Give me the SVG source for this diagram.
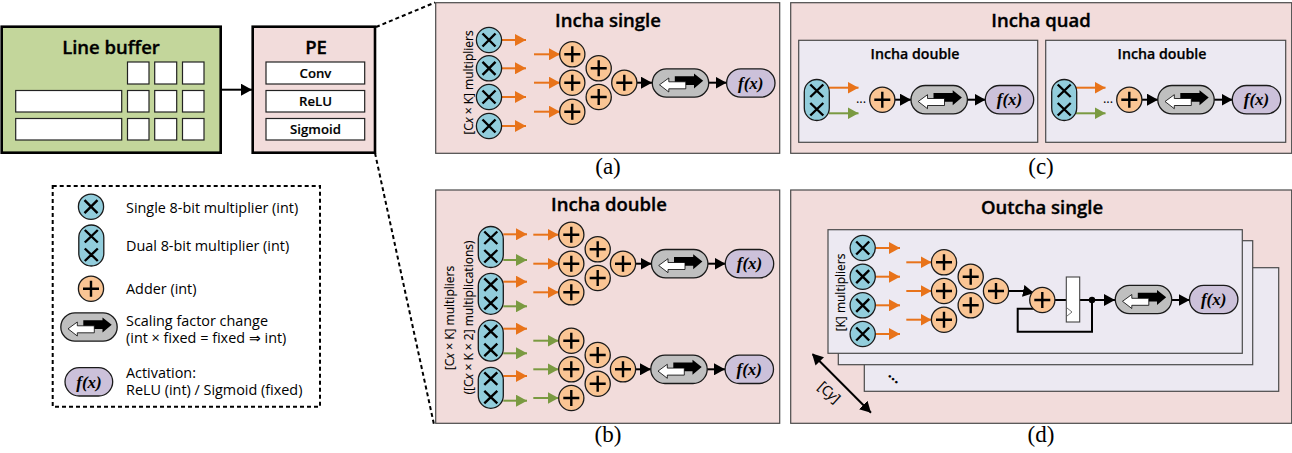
<svg xmlns="http://www.w3.org/2000/svg" width="1292" height="453" viewBox="0 0 1292 453">
<style>
text{font-family:"Open Sans","Noto Sans","Liberation Sans",sans-serif;fill:#000}
.h{font-size:18.5px;font-weight:600;text-anchor:middle;stroke:#000;stroke-width:.35}
.h2{font-size:14.2px;font-weight:600;text-anchor:middle;stroke:#000;stroke-width:.25}
.pe{font-size:13.2px;font-weight:600;text-anchor:middle;stroke:#000;stroke-width:.15}
.cap{font-family:"Liberation Serif",serif;font-size:23px;text-anchor:middle}
.lg{font-size:14.4px}
.rot{font-size:12px;text-anchor:middle;stroke:#000;stroke-width:.12}
.fx{font-family:"Liberation Serif",serif;font-size:17px;font-weight:700;font-style:italic;text-anchor:middle}
.panel{fill:#f2dcdb;stroke:#4a4a4a;stroke-width:1.2}
.inner{fill:#ece9f2;stroke:#4a4a4a;stroke-width:1.2}
.box{fill:#fff;stroke:#222;stroke-width:1.2}
.o{stroke:#e8731a;stroke-width:2;fill:none;marker-end:url(#ao)}
.g{stroke:#7a9a41;stroke-width:2;fill:none;marker-end:url(#ag)}
.k{stroke:#000;stroke-width:2;fill:none;marker-end:url(#ak)}
.w{stroke:#000;stroke-width:2;fill:none}
.sym{stroke:#1a1a1a;stroke-width:1.3}
.glyph{stroke:#000;stroke-width:2.4;fill:none}
</style>
<defs>
<marker id="ao" markerUnits="userSpaceOnUse" markerWidth="12" markerHeight="12" refX="11" refY="6" orient="auto"><path d="M0 0L11 6L0 12z" fill="#e8731a"/></marker>
<marker id="ag" markerUnits="userSpaceOnUse" markerWidth="12" markerHeight="12" refX="11" refY="6" orient="auto"><path d="M0 0L11 6L0 12z" fill="#7a9a41"/></marker>
<marker id="ak" markerUnits="userSpaceOnUse" markerWidth="12" markerHeight="12" refX="11" refY="6" orient="auto"><path d="M0 0L11 6L0 12z" fill="#000"/></marker>
<marker id="aks" markerUnits="userSpaceOnUse" markerWidth="12" markerHeight="12" refX="1" refY="6" orient="auto"><path d="M11 0L0 6L11 12z" fill="#000"/></marker>
<g id="mul"><circle r="12.6" fill="#92cddc" class="sym"/><path d="M-6.5-6.5L6.5 6.5M6.5-6.5L-6.5 6.5" class="glyph"/></g>
<g id="dual"><rect x="-12.5" y="-20.5" width="25" height="41" rx="12.5" fill="#92cddc" class="sym"/><path d="M-6.5-15.5L6.5-3M6.5-15.5L-6.5-3M-6.5 3L6.5 15.5M6.5 3L-6.5 15.5" class="glyph"/></g>
<g id="add"><circle r="12.6" fill="#fac594" class="sym"/><path d="M-8 0H8M0-8V8" class="glyph"/></g>
<g id="scale"><rect x="-28.2" y="-14.2" width="56.4" height="28.4" rx="14.2" fill="#bfbfbf" class="sym"/><path d="M-5.7-6.8H13.5V-9.5L22.7-2.2L13.5 5.5V2H-5.7z" fill="#000"/><path d="M5.3-1.2H-11.7V-5L-21 1.8L-11.7 9V5.8H5.3z" fill="#fff" stroke="#000" stroke-width=".8"/></g>
<rect id="fxb" x="-24.2" y="-14.2" width="48.4" height="28.4" rx="14.2" fill="#ccc1da" class="sym"/>
</defs>

<g id="line-buffer"><rect x="1.7" y="26.7" width="219" height="126" fill="#c3d69b" stroke="#000" stroke-width="2.6"/>
<text class="h" x="111" y="54">Line buffer</text>
<rect class="box" x="127.5" y="62" width="21.5" height="22"/><rect class="box" x="154.7" y="62" width="22" height="22"/><rect class="box" x="182.5" y="62" width="21.5" height="22"/>
<rect class="box" x="15.7" y="90.5" width="106" height="21.5"/><rect class="box" x="127.5" y="90.5" width="21.5" height="21.5"/><rect class="box" x="154.7" y="90.5" width="22" height="21.5"/><rect class="box" x="182.5" y="90.5" width="21.5" height="21.5"/>
<rect class="box" x="15.7" y="118.5" width="106" height="21.5"/><rect class="box" x="127.5" y="118.5" width="21.5" height="21.5"/><rect class="box" x="154.7" y="118.5" width="22" height="21.5"/><rect class="box" x="182.5" y="118.5" width="21.5" height="21.5"/></g>
<g id="pe"><rect x="252.7" y="26.7" width="122.3" height="126" fill="#f2dcdb" stroke="#000" stroke-width="2.6"/>
<text class="h" x="316" y="54">PE</text>
<rect class="box" x="266" y="62" width="98.7" height="22"/><text class="pe" x="315.5" y="78">Conv</text>
<rect class="box" x="266" y="90.5" width="98.7" height="21.5"/><text class="pe" x="315.5" y="106">ReLU</text>
<rect class="box" x="266" y="118.5" width="98.7" height="21.5"/><text class="pe" x="315.5" y="134">Sigmoid</text></g>

<g id="legend"><rect x="52.7" y="186" width="267.3" height="220.7" fill="#fff" stroke="#000" stroke-width="2" stroke-dasharray="4 3"/>
<use href="#mul" x="91" y="206.7"/><text class="lg" x="126" y="213">Single 8-bit multiplier (int)</text>
<use href="#dual" x="91.3" y="245.5"/><text class="lg" x="126" y="251">Dual 8-bit multiplier (int)</text>
<use href="#add" x="91" y="288.7"/><text class="lg" x="126" y="294">Adder (int)</text>
<use href="#scale" x="89" y="327"/><text class="lg" x="126" y="326">Scaling factor change</text><text class="lg" x="126" y="343">(int × fixed = fixed ⇒ int)</text>
<rect x="65" y="367.7" width="47.7" height="28.3" rx="14.2" fill="#ccc1da" class="sym"/><text class="fx" x="89" y="387.5">f(x)</text>
<text class="lg" x="126" y="378">Activation:</text><text class="lg" x="126" y="395">ReLU (int) / Sigmoid (fixed)</text></g>

<g id="panel-a"><rect class="panel" x="435.7" y="2.7" width="344" height="150.6"/><text class="h" x="608" y="27">Incha single</text><text class="cap" x="608" y="174">(a)</text>
<text class="rot" transform="translate(472.7 82.5) rotate(-90)">[C<tspan font-style="italic">x</tspan> × K] multipliers</text></g>
<g id="panel-b"><rect class="panel" x="435.7" y="190" width="344" height="233.3"/><text class="h" x="609" y="211">Incha double</text><text class="cap" x="608" y="442">(b)</text>
<text class="rot" transform="translate(454 318) rotate(-90)">[C<tspan font-style="italic">x</tspan> × K] multipliers</text>
<text class="rot" transform="translate(472.5 317.5) rotate(-90)">([C<tspan font-style="italic">x</tspan> × K × 2] multiplications)</text></g>
<g id="panel-c"><rect class="panel" x="790.7" y="2.7" width="501" height="150.6"/><text class="h" x="1041" y="27">Incha quad</text><text class="cap" x="1041" y="174">(c)</text>
<rect class="inner" x="798.7" y="40.3" width="239" height="102"/><text class="h2" x="915" y="59">Incha double</text>
<rect class="inner" x="1045.7" y="40.3" width="240" height="102"/><text class="h2" x="1162" y="59">Incha double</text>
<text x="861" y="103" font-size="13" text-anchor="middle">...</text><text x="1108" y="103" font-size="13" text-anchor="middle">...</text></g>
<g id="panel-d"><rect class="panel" x="790.7" y="190" width="501" height="233.3"/><text class="h" x="1042" y="214">Outcha single</text><text class="cap" x="1041" y="442">(d)</text>
<rect class="inner" x="864.3" y="267.7" width="414.4" height="123.6"/><rect class="inner" x="838.3" y="240.7" width="414.4" height="124"/><rect class="inner" x="828" y="229.7" width="414.3" height="123.6"/>
<text class="rot" transform="translate(845.3 292.5) rotate(-90)">[K] multipliers</text>
<text x="895" y="381" font-size="15" font-weight="700" text-anchor="middle" transform="rotate(42 895 377)">...</text>
<text class="rot" font-size="14" style="font-size:14px" transform="translate(826 396) rotate(42)">[C<tspan font-style="italic">y</tspan>]</text></g>

<g id="connectors">
<path class="k" d="M221 89.7H252"/>
<path d="M376 27L435 2.5M375 153L434 424.5" stroke="#000" stroke-width="2" stroke-dasharray="4 3" fill="none"/>
<path class="o" d="M502 40H526"/><path class="o" d="M502 68.3H526"/><path class="o" d="M502 97H526"/><path class="o" d="M502 126H526"/>
<path class="o" d="M534 54.3H560"/><path class="o" d="M534 82.7H560"/><path class="o" d="M534 111.7H560"/>
<path class="k" d="M637 82.7H652"/><path class="k" d="M709 82.7H726.5"/>
<path class="o" d="M503.3 234.3H527"/><path class="g" d="M503.3 260H527"/><path class="o" d="M503.3 281.7H527"/><path class="g" d="M503.3 306.3H527"/><path class="o" d="M503.3 328.7H527"/><path class="g" d="M503.3 353.3H527"/><path class="o" d="M503.3 376H527"/><path class="g" d="M503.3 400.7H527"/>
<path class="o" d="M533.3 234.7H558.5"/><path class="o" d="M533.3 263.7H558.5"/><path class="o" d="M533.3 292.3H558.5"/>
<path class="g" d="M533.3 340.7H558.5"/><path class="g" d="M533.3 369.3H558.5"/><path class="g" d="M533.3 398H558.5"/>
<path class="k" d="M636 263.7H651.5"/><path class="k" d="M708 263.7H725.5"/><path class="k" d="M636 369.3H651"/><path class="k" d="M707 369.3H725"/>
<path class="o" d="M829 87.7H858.5"/><path class="g" d="M829 113.3H858.5"/><path class="k" d="M895 99.7H911"/><path class="k" d="M967 99.7H985.5"/>
<path class="o" d="M1076 87.7H1105.5"/><path class="g" d="M1076 113.3H1105.5"/><path class="k" d="M1142 99.7H1158"/><path class="k" d="M1214 99.7H1232.5"/>
<path class="o" d="M876 248H900"/><path class="o" d="M876 276.7H900"/><path class="o" d="M876 305.3H900"/><path class="o" d="M876 334H900"/>
<path class="o" d="M906.3 262.3H931.5"/><path class="o" d="M906.3 291H931.5"/><path class="o" d="M906.3 319.7H931.5"/>
<path class="k" d="M1009 291H1024L1034 293"/>
<path class="w" d="M1055 300H1066.3M1079.7 300H1092"/>
<path class="k" d="M1092 300H1115"/><path class="k" d="M1172 300H1189.7"/>
<path class="w" d="M1092 300V331.7H1017.7V308.7H1036"/>
<circle cx="1092" cy="300" r="3.2" fill="#000"/>
<path d="M812.7 354.3L871 412.7" stroke="#000" stroke-width="2" fill="none" marker-start="url(#aks)" marker-end="url(#ak)"/>
</g>

<g id="nodes-a">
<use id="a-m1" href="#mul" x="489" y="40"/><use id="a-m2" href="#mul" x="489" y="68.3"/><use id="a-m3" href="#mul" x="489" y="97"/><use id="a-m4" href="#mul" x="489" y="126"/>
<use id="a-a1" href="#add" x="572.3" y="54.3"/><use id="a-a2" href="#add" x="572.3" y="82.7"/><use id="a-a3" href="#add" x="572.3" y="111.7"/><use id="a-a4" href="#add" x="598.7" y="68.3"/><use id="a-a5" href="#add" x="598.7" y="97"/><use id="a-a6" href="#add" x="624.3" y="82.7"/>
<use id="a-s" href="#scale" x="680.5" y="83"/><g id="a-f"><use href="#fxb" x="750.8" y="83"/><text class="fx" x="750.8" y="88.5">f(x)</text></g>
</g>
<g id="nodes-b">
<use id="b-d1" href="#dual" x="490.8" y="247"/><use id="b-d2" href="#dual" x="490.8" y="293.8"/><use id="b-d3" href="#dual" x="490.8" y="340.7"/><use id="b-d4" href="#dual" x="490.8" y="387.8"/>
<use id="b-a1" href="#add" x="571.3" y="234.7"/><use id="b-a2" href="#add" x="571.3" y="263.7"/><use id="b-a3" href="#add" x="571.3" y="292.3"/><use id="b-a4" href="#add" x="597.7" y="249.3"/><use id="b-a5" href="#add" x="597.7" y="278"/><use id="b-a6" href="#add" x="623" y="263.7"/>
<use id="b-s1" href="#scale" x="679.7" y="263.7"/><g id="b-f1"><use href="#fxb" x="749.5" y="263.7"/><text class="fx" x="749.5" y="269">f(x)</text></g>
<use id="b-a7" href="#add" x="571.3" y="340.7"/><use id="b-a8" href="#add" x="571.3" y="369.3"/><use id="b-a9" href="#add" x="571.3" y="398"/><use id="b-a10" href="#add" x="597.7" y="355"/><use id="b-a11" href="#add" x="597.7" y="383.7"/><use id="b-a12" href="#add" x="623" y="369.3"/>
<use id="b-s2" href="#scale" x="679" y="369.3"/><g id="b-f2"><use href="#fxb" x="749.3" y="369.3"/><text class="fx" x="749.3" y="374.7">f(x)</text></g>
</g>
<g id="nodes-c">
<use id="c-d1" href="#dual" x="816.8" y="100"/><use id="c-a1" href="#add" x="882.3" y="99.7"/><use id="c-s1" href="#scale" x="939.2" y="99.7"/><g id="c-f1"><use href="#fxb" x="1009.5" y="99.7"/><text class="fx" x="1009.5" y="105">f(x)</text></g>
<use id="c-d2" href="#dual" x="1064.2" y="100"/><use id="c-a2" href="#add" x="1129.3" y="99.7"/><use id="c-s2" href="#scale" x="1186" y="99.7"/><g id="c-f2"><use href="#fxb" x="1256.5" y="99.7"/><text class="fx" x="1256.5" y="105">f(x)</text></g>
</g>
<g id="nodes-d">
<use id="d-m1" href="#mul" x="862.7" y="248"/><use id="d-m2" href="#mul" x="862.7" y="276.7"/><use id="d-m3" href="#mul" x="862.7" y="305.3"/><use id="d-m4" href="#mul" x="862.7" y="334"/>
<use id="d-a1" href="#add" x="944" y="262.3"/><use id="d-a2" href="#add" x="944" y="291"/><use id="d-a3" href="#add" x="944" y="319.7"/><use id="d-a4" href="#add" x="970.7" y="276.7"/><use id="d-a5" href="#add" x="970.7" y="305.3"/><use id="d-a6" href="#add" x="996" y="291"/><use id="d-a7" href="#add" x="1042.3" y="300"/>
<g id="d-reg"><rect x="1066.3" y="277" width="13.4" height="45" fill="#fff" stroke="#444" stroke-width="1.1"/><path d="M1067 308L1072 312L1067 316" fill="none" stroke="#555" stroke-width=".8"/></g>
<use id="d-s" href="#scale" x="1143.5" y="299.5"/><g id="d-f"><use href="#fxb" x="1213.7" y="299.5"/><text class="fx" x="1213.7" y="305">f(x)</text></g>
</g>
</svg>
